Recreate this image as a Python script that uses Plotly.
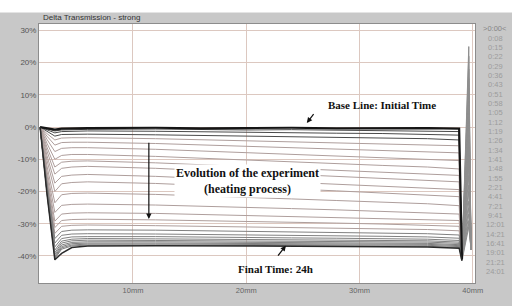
import plotly.graph_objects as go

# ---------------- data ----------------
TIME_LABELS = [">0:00<", "0:08", "0:15", "0:22", "0:29", "0:36", "0:43", "0:51", "0:58",
               "1:05", "1:12", "1:19", "1:26", "1:34", "1:41", "1:48", "1:55", "2:21",
               "4:41", "7:21", "9:41", "12:01", "14:21", "16:41", "19:01", "21:21", "24:01"]

X_MM = [1.8, 2.4, 3.1, 3.7, 4.6, 6, 12, 16, 20, 24, 28, 32, 36, 38.8, 39.05, 39.65, 39.85]

CURVES = [
    [0, -0.3, -0.8, -0.5, -0.4, -0.3, -0.2, -0.4, -0.3, -0.2, -0.4, -0.3, -0.3, -0.5, -41, 25, -38],
    [0, -0.6, -1.2, -0.9, -0.8, -0.7, -0.6, -0.8, -0.9, -0.8, -1.0, -1.1, -1.2, -1.4, -41, 22, -38],
    [0, -0.9, -1.8, -1.4, -1.3, -1.2, -1.3, -1.5, -1.6, -1.7, -1.9, -2.0, -2.2, -2.5, -41, 18, -38],
    [0, -1.4, -2.8, -2.3, -2.2, -2.2, -2.4, -2.6, -2.8, -3.0, -3.2, -3.4, -3.6, -4.0, -41, 15, -38],
    [0, -2.0, -4.0, -3.4, -3.3, -3.3, -3.6, -3.9, -4.2, -4.5, -4.8, -5.1, -5.4, -5.8, -41, 12, -38],
    [0, -2.8, -5.6, -4.8, -4.7, -4.7, -5.1, -5.5, -5.9, -6.3, -6.7, -7.1, -7.5, -8.0, -41, 9, -38],
    [0, -3.8, -7.6, -6.6, -6.4, -6.4, -6.9, -7.4, -7.9, -8.4, -8.9, -9.4, -9.9, -10.4, -41, 7, -38],
    [0, -5.0, -10.0, -8.8, -8.5, -8.5, -9.1, -9.7, -10.3, -10.8, -11.4, -11.9, -12.4, -13.0, -41, 5, -38],
    [0, -6.2, -12.4, -10.9, -10.6, -10.5, -11.1, -11.7, -12.3, -12.8, -13.4, -13.9, -14.5, -15.0, -41, 3, -38],
    [0, -7.4, -14.6, -12.8, -12.4, -12.2, -12.8, -13.4, -14.0, -14.6, -15.2, -15.8, -16.4, -17.0, -41, 2, -38],
    [0, -8.8, -17.4, -15.3, -14.9, -14.7, -15.3, -15.9, -16.5, -17.0, -17.6, -18.2, -18.8, -19.4, -41, 1, -38],
    [0, -10.2, -20.0, -17.6, -17.2, -17.0, -17.5, -18.0, -18.6, -19.2, -19.8, -20.4, -21.0, -21.6, -41, 0, -38],
    [0, -12.0, -23.5, -21.0, -20.6, -20.5, -20.9, -21.3, -21.8, -22.3, -22.8, -23.3, -23.8, -24.4, -41, -2, -38],
    [0, -13.5, -26.5, -24.3, -24.0, -23.9, -24.2, -24.5, -24.9, -25.3, -25.7, -26.1, -26.5, -27.0, -41, -4, -38],
    [0, -14.8, -29.2, -27.0, -26.7, -26.6, -26.8, -27.1, -27.4, -27.7, -28.0, -28.3, -28.6, -29.0, -41, -6, -38],
    [0, -15.8, -31.2, -29.0, -28.7, -28.6, -28.8, -29.0, -29.3, -29.6, -29.8, -30.1, -30.4, -30.8, -41, -8, -38],
    [0, -16.6, -33.0, -30.8, -30.5, -30.4, -30.6, -30.8, -31.0, -31.2, -31.4, -31.6, -31.8, -32.2, -41, -10, -38],
    [0, -17.4, -34.6, -32.4, -32.0, -31.9, -32.0, -32.2, -32.4, -32.5, -32.7, -32.9, -33.1, -33.5, -41, -12, -38],
    [0, -18.0, -36.0, -33.6, -33.2, -33.1, -33.2, -33.3, -33.5, -33.6, -33.8, -33.9, -34.1, -34.5, -41, -15, -38],
    [0, -18.6, -37.2, -34.6, -34.1, -34.0, -34.0, -34.2, -34.3, -34.4, -34.5, -34.6, -34.8, -35.2, -41, -18, -38],
    [0, -19.0, -38.2, -35.4, -34.8, -34.6, -34.7, -34.8, -34.9, -35.0, -35.1, -35.2, -35.3, -35.7, -41, -20, -38],
    [0, -19.4, -39.0, -36.0, -35.3, -35.1, -35.2, -35.3, -35.3, -35.4, -35.5, -35.6, -35.7, -36.1, -41, -23, -38],
    [0, -19.8, -39.6, -36.6, -35.8, -35.6, -35.6, -35.7, -35.7, -35.8, -35.9, -36.0, -36.1, -36.5, -41, -25, -38],
    [0, -20.0, -40.1, -37.1, -36.2, -36.0, -36.0, -36.1, -36.1, -36.2, -36.2, -36.3, -36.4, -36.8, -41, -27, -38],
    [0, -20.2, -40.5, -37.5, -36.6, -36.3, -36.3, -36.4, -36.4, -36.5, -36.5, -36.6, -36.7, -37.1, -41, -29, -38],
    [0, -20.4, -40.8, -37.9, -36.9, -36.6, -36.6, -36.7, -36.7, -36.8, -36.8, -36.9, -37.0, -37.4, -41, -30, -38],
    [0, -20.6, -41.2, -39.2, -37.4, -36.9, -36.8, -36.9, -36.9, -37.0, -37.0, -37.1, -37.2, -37.6, -41.5, -31, -38],
]

Y_TICKS = [30, 20, 10, 0, -10, -20, -30, -40]
Y_TICK_TEXT = ["30%", "20%", "10%", "0%", "-10%", "-20%", "-30%", "-40%"]
X_TICKS = [10, 20, 30, 40]
X_TICK_TEXT = ["10mm", "20mm", "30mm", "40mm"]

# ---------------- figure ----------------
W, H = 512, 306
ML, MR, MT, MB = 39, 37, 24, 11
PW, PH = W - ML - MR, H - MT - MB
SPIKE_START = 14  # index where the right-edge artefact begins

fig = go.Figure()

n = len(CURVES)
# spike artefacts (light grey) drawn first
for i in range(n):
    fig.add_trace(go.Scatter(x=X_MM[SPIKE_START:], y=CURVES[i][SPIKE_START:], mode="lines",
                             line=dict(color="#8e8e8e", width=1), showlegend=False,
                             hoverinfo="skip"))

order = list(range(1, n - 1)) + [0, n - 1]
for i in order:
    if i == 0:
        color, width = "#151515", 2.2
    elif i <= 3:
        color, width = "#4a4a4a", 1
    elif i <= 16:
        color, width = "#ae9e9c", 1
    elif i < n - 1:
        color, width = "#808080", 1
    else:
        color, width = "#2a2a2a", 1.5
    fig.add_trace(go.Scatter(x=X_MM[:SPIKE_START + 1], y=CURVES[i][:SPIKE_START + 1], mode="lines",
                             name=TIME_LABELS[i], line=dict(color=color, width=width),
                             showlegend=False, hoverinfo="skip"))

grid = "#dcc8c0"
fig.update_xaxes(range=[1.7, 40.2], tickvals=X_TICKS, ticktext=X_TICK_TEXT,
                 showgrid=True, gridcolor=grid, gridwidth=1, zeroline=False,
                 showline=True, mirror=True, linecolor="#8c8c8c", linewidth=1,
                 ticks="", tickfont=dict(family="Liberation Sans", size=7.5, color="#666"))
fig.update_yaxes(range=[-48.4, 32.0], tickvals=Y_TICKS, ticktext=Y_TICK_TEXT,
                 showgrid=True, gridcolor=grid, gridwidth=1, zeroline=False,
                 showline=True, mirror=True, linecolor="#8c8c8c", linewidth=1,
                 ticks="", tickfont=dict(family="Liberation Sans", size=8, color="#555"))

annotations = []
# title
annotations.append(dict(text="Delta Transmission - strong", xref="paper", yref="paper",
                        x=(42 - ML) / PW, y=1 + (MT - 17) / PH, xanchor="left", yanchor="middle",
                        showarrow=False, borderpad=0,
                        font=dict(family="Liberation Sans", size=8, color="#333")))
# time legend column
for k, lab in enumerate(TIME_LABELS):
    ypx = 29 + k * 9.77
    annotations.append(dict(text=lab, xref="paper", yref="paper",
                            x=(495 - ML) / PW, y=(H - MB - ypx) / PH,
                            xanchor="center", yanchor="middle", showarrow=False, borderpad=0,
                            font=dict(family="Liberation Sans", size=7.5,
                                      color="#858585" if k == 0 else "#9c9c9c")))

serif = "Liberation Serif"
# Evolution text + arrow
annotations.append(dict(text="<b>Evolution of the experiment</b><br><b>(heating process)</b>",
                        x=20.15, y=-16.6, xref="x", yref="y", showarrow=False,
                        bgcolor="white", borderpad=1,
                        font=dict(family=serif, size=12, color="#111")))
annotations.append(dict(x=11.4, y=-28.5, ax=11.4, ay=-4.4, xref="x", yref="y",
                        axref="x", ayref="y", text="", showarrow=True,
                        arrowhead=2, arrowsize=0.9, arrowwidth=1.2, arrowcolor="#111"))
# Base line
annotations.append(dict(text="<b>Base Line: Initial Time</b>", x=31.95, y=6.8, xref="x", yref="y",
                        showarrow=False, font=dict(family=serif, size=11, color="#111")))
annotations.append(dict(x=25.35, y=1.3, ax=26.05, ay=4.5, xref="x", yref="y",
                        axref="x", ayref="y", text="", showarrow=True,
                        arrowhead=2, arrowsize=0.9, arrowwidth=1.2, arrowcolor="#111"))
# Final time
annotations.append(dict(text="<b>Final Time: 24h</b>", x=22.6, y=-43.9, xref="x", yref="y",
                        showarrow=False, font=dict(family=serif, size=11, color="#111")))
annotations.append(dict(x=23.5, y=-36.8, ax=22.7, ay=-40.4, xref="x", yref="y",
                        axref="x", ayref="y", text="", showarrow=True,
                        arrowhead=2, arrowsize=0.9, arrowwidth=1.2, arrowcolor="#111"))

shapes = [dict(type="rect", xref="paper", yref="paper", layer="above",
               x0=-ML / PW - 0.01, x1=1 + MR / PW + 0.01,
               y0=1 + (MT - 12) / PH, y1=1 + MT / PH + 0.01,
               fillcolor="white", line=dict(width=0))]

fig.update_layout(width=W, height=H, margin=dict(l=ML, r=MR, t=MT, b=MB),
                  paper_bgcolor="#c8c8c8", plot_bgcolor="white",
                  annotations=annotations, shapes=shapes, showlegend=False)

fig.write_html("out.html", config={"displayModeBar": False},
               post_script="document.body.style.margin='0';document.body.style.overflow='hidden';")
